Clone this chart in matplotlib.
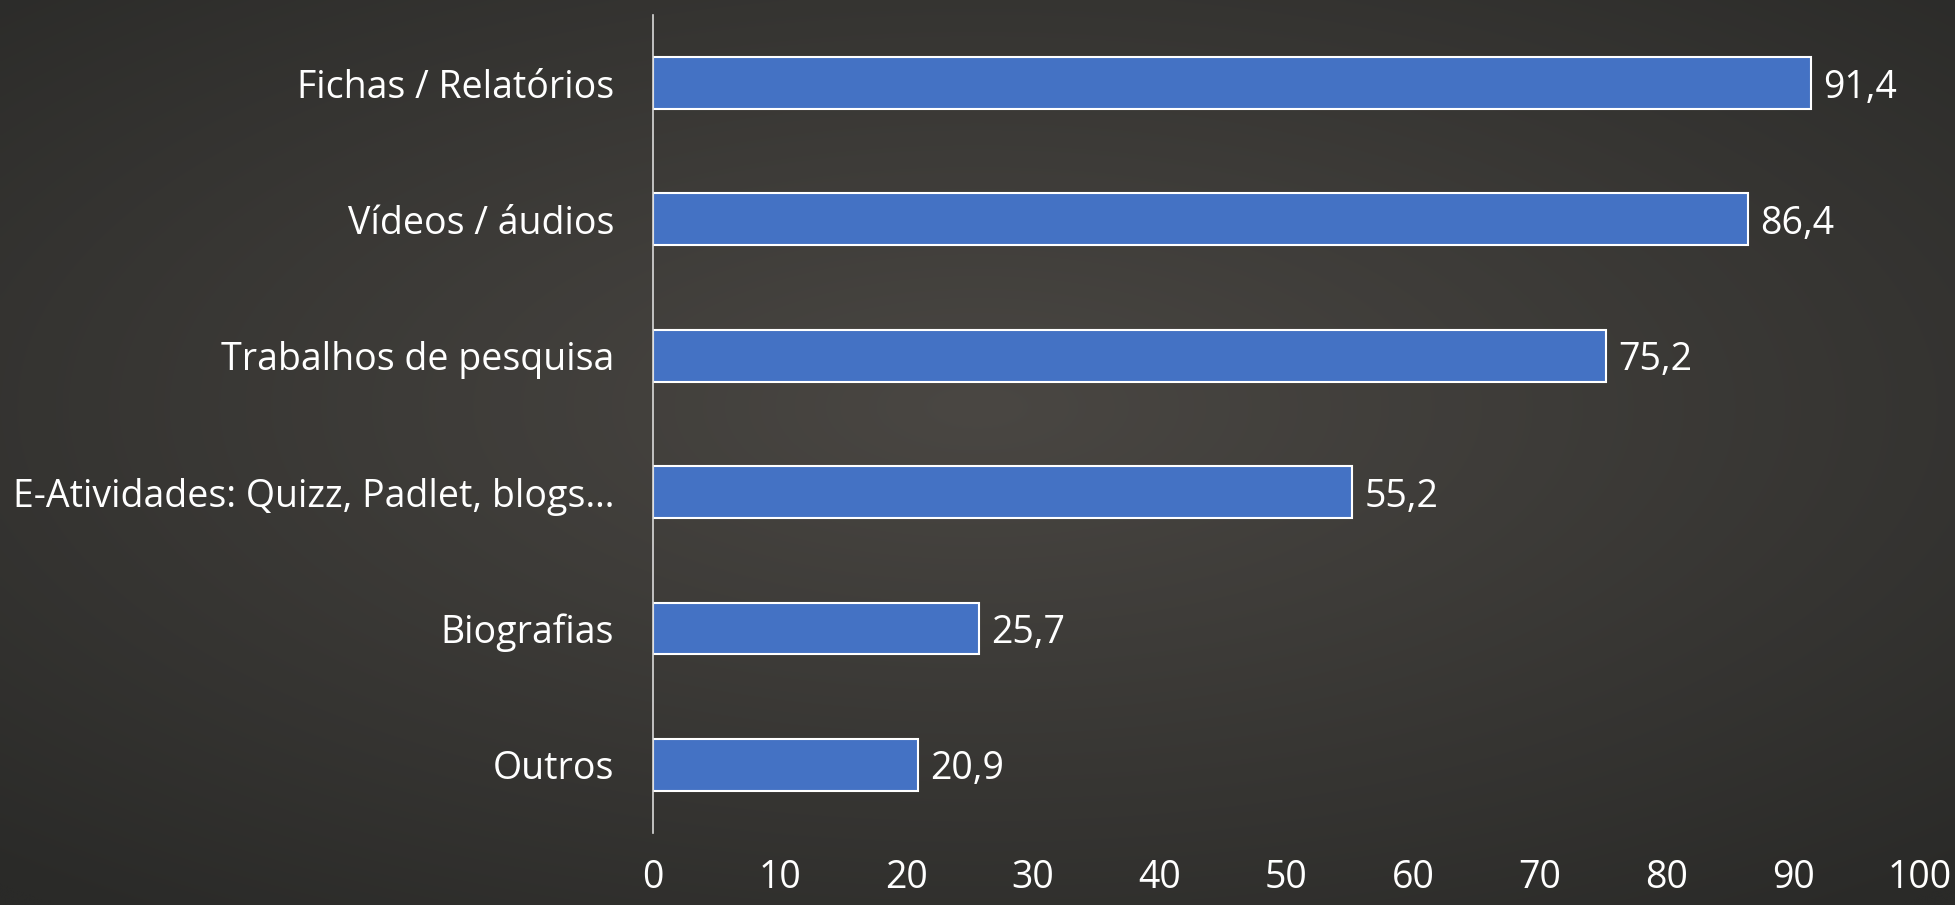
import numpy as np
import matplotlib
matplotlib.use("Agg")
import matplotlib.pyplot as plt

categories = ["Fichas / Relatórios", "Vídeos / áudios", "Trabalhos de pesquisa",
              "E-Atividades: Quizz, Padlet, blogs…", "Biografias", "Outros"]
values = [91.4, 86.4, 75.2, 55.2, 25.7, 20.9]
value_labels = ["91,4", "86,4", "75,2", "55,2", "25,7", "20,9"]
xticks = [0, 10, 20, 30, 40, 50, 60, 70, 80, 90, 100]

plt.rcParams['font.family'] = ['Open Sans', 'DejaVu Sans']

fig = plt.figure(figsize=(19.55, 9.05), dpi=100)

# chalkboard-like background gradient
bg = fig.add_axes([0, 0, 1, 1], zorder=-10)
yy, xx = np.mgrid[0:1:300j, 0:1:600j]
d = np.sqrt(((xx - 0.5) / 0.75) ** 2 + ((yy - 0.45) / 0.7) ** 2)
g = np.clip(1 - d, 0, 1)
c0 = np.array([0x2a, 0x2a, 0x28]) / 255
c1 = np.array([0x4a, 0x47, 0x43]) / 255
img = c0[None, None, :] + (c1 - c0)[None, None, :] * g[..., None]
bg.imshow(img, aspect='auto', extent=[0, 1, 0, 1], interpolation='bicubic')
bg.axis('off')

ax = fig.add_axes([0.334, 0.0796, 0.648, 0.904])
ax.patch.set_alpha(0)
n = len(categories)
ypos = np.arange(n)
ax.barh(ypos, values, height=0.38, color='#4472C4', edgecolor='white', linewidth=1.5)
ax.set_xlim(0, 100)
ax.set_ylim(n - 0.5, -0.5)
ax.set_yticks(ypos)
ax.set_yticklabels(categories, color='white', fontsize=27)
ax.set_xticks(xticks)
ax.set_xticklabels([str(t) for t in xticks], color='white', fontsize=27)
ax.tick_params(axis='both', length=0)
ax.tick_params(axis='y', pad=28)
ax.tick_params(axis='x', pad=19)
for s in ['top', 'right', 'bottom']:
    ax.spines[s].set_visible(False)
ax.spines['left'].set_color('#d9d9d9')
ax.spines['left'].set_linewidth(1.2)
for y, v, lab in zip(ypos, values, value_labels):
    ax.text(v + 1.0, y, lab, va='center_baseline', ha='left', color='white', fontsize=27)

fig.savefig("out.png", dpi=100)
